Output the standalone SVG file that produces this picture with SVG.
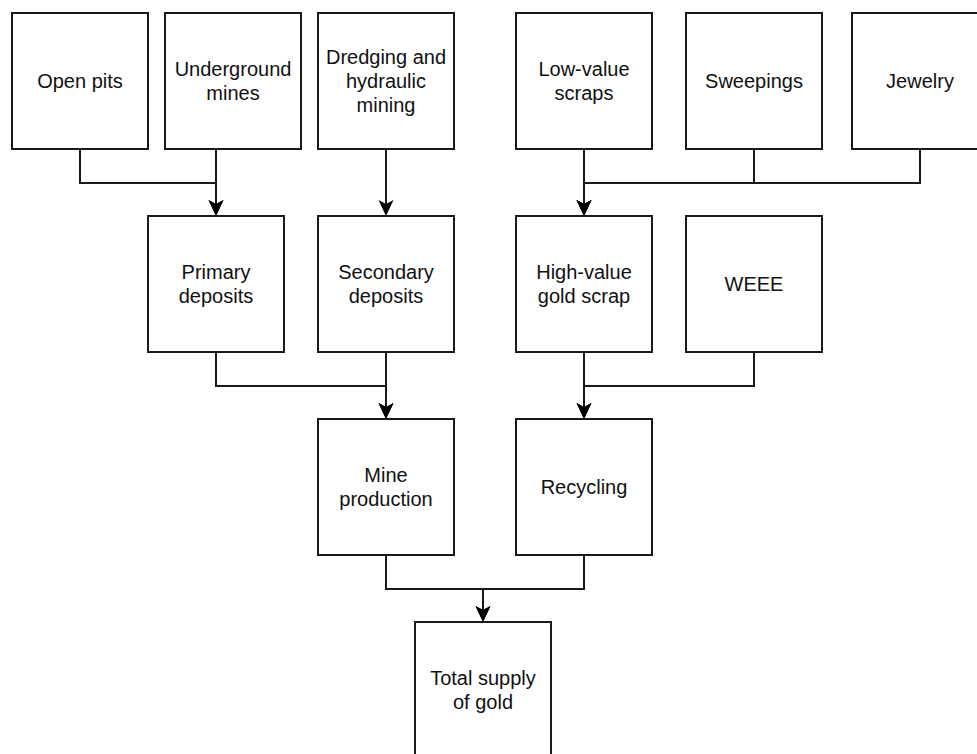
<svg xmlns="http://www.w3.org/2000/svg" width="977" height="754" viewBox="0 0 977 754">
<style>
.box{fill:#fff;stroke:#1a1a1a;stroke-width:2}
.lbl{font-family:"Liberation Sans",Arial,Helvetica,sans-serif;font-size:20px;fill:#111;text-anchor:middle}
.edge{fill:none;stroke:#1a1a1a;stroke-width:2}
</style>
<defs>
<marker id="arr" viewBox="0 0 16 16" refX="12" refY="8" markerWidth="16" markerHeight="16" markerUnits="userSpaceOnUse" orient="auto">
<path d="M0,0.5 L16,8 L0,15.5 L4,8 Z" fill="#000"/>
</marker>
</defs>
<rect width="977" height="754" fill="#fff"/>
<g id="connectors">
<path class="edge" d="M80,149 V183 H216 V212" marker-end="url(#arr)"/>
<path class="edge" d="M216,149 V212" marker-end="url(#arr)"/>
<path class="edge" d="M386,149 V212" marker-end="url(#arr)"/>
<path class="edge" d="M584,149 V212" marker-end="url(#arr)"/>
<path class="edge" d="M754,149 V183 H584 V212" marker-end="url(#arr)"/>
<path class="edge" d="M920,149 V183 H584 V212" marker-end="url(#arr)"/>
<path class="edge" d="M216,352 V386 H386 V415" marker-end="url(#arr)"/>
<path class="edge" d="M386,352 V415" marker-end="url(#arr)"/>
<path class="edge" d="M584,352 V415" marker-end="url(#arr)"/>
<path class="edge" d="M754,352 V386 H584 V415" marker-end="url(#arr)"/>
<path class="edge" d="M386,555 V589 H483 V618" marker-end="url(#arr)"/>
<path class="edge" d="M584,555 V589 H483 V618" marker-end="url(#arr)"/>
</g>
<g id="open-pits"><rect class="box" x="12" y="13" width="136" height="136"/><text class="lbl" x="80" y="88">Open pits</text></g>
<g id="underground-mines"><rect class="box" x="165" y="13" width="136" height="136"/><text class="lbl" x="233" y="76">Underground</text><text class="lbl" x="233" y="100">mines</text></g>
<g id="dredging"><rect class="box" x="318" y="13" width="136" height="136"/><text class="lbl" x="386" y="64">Dredging and</text><text class="lbl" x="386" y="88">hydraulic</text><text class="lbl" x="386" y="112">mining</text></g>
<g id="low-value-scraps"><rect class="box" x="516" y="13" width="136" height="136"/><text class="lbl" x="584" y="76">Low-value</text><text class="lbl" x="584" y="100">scraps</text></g>
<g id="sweepings"><rect class="box" x="686" y="13" width="136" height="136"/><text class="lbl" x="754" y="88">Sweepings</text></g>
<g id="jewelry"><rect class="box" x="852" y="13" width="136" height="136"/><text class="lbl" x="920" y="88">Jewelry</text></g>
<g id="primary-deposits"><rect class="box" x="148" y="216" width="136" height="136"/><text class="lbl" x="216" y="279">Primary</text><text class="lbl" x="216" y="303">deposits</text></g>
<g id="secondary-deposits"><rect class="box" x="318" y="216" width="136" height="136"/><text class="lbl" x="386" y="279">Secondary</text><text class="lbl" x="386" y="303">deposits</text></g>
<g id="high-value-gold-scrap"><rect class="box" x="516" y="216" width="136" height="136"/><text class="lbl" x="584" y="279">High-value</text><text class="lbl" x="584" y="303">gold scrap</text></g>
<g id="weee"><rect class="box" x="686" y="216" width="136" height="136"/><text class="lbl" x="754" y="291">WEEE</text></g>
<g id="mine-production"><rect class="box" x="318" y="419" width="136" height="136"/><text class="lbl" x="386" y="482">Mine</text><text class="lbl" x="386" y="506">production</text></g>
<g id="recycling"><rect class="box" x="516" y="419" width="136" height="136"/><text class="lbl" x="584" y="494">Recycling</text></g>
<g id="total-supply"><rect class="box" x="415" y="622" width="136" height="136"/><text class="lbl" x="483" y="685">Total supply</text><text class="lbl" x="483" y="709">of gold</text></g>
</svg>
